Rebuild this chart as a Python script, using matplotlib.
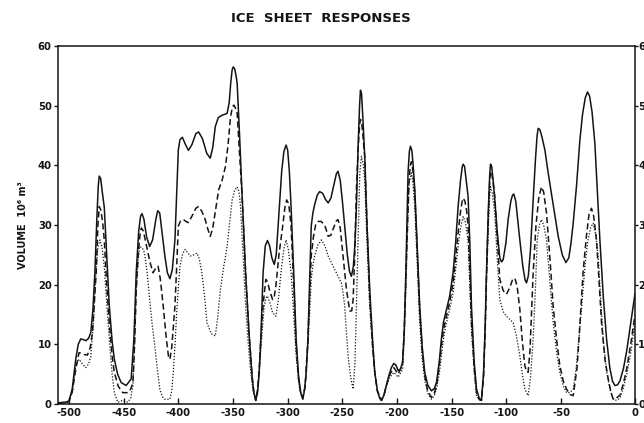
import matplotlib
matplotlib.use("Agg")
import matplotlib.pyplot as plt
from matplotlib.axes import Axes


###================ Ice volume series (10^6 m^3) =================###

solid_time = [
    -510, -503, -500, -497, -493.8, -491.5, -489.2, -486.8, -484.6, -482,
    -480, -478, -476.3, -474.5, -473.2, -472.3, -471, -469.5, -467.7, -465.5,
    -463.1, -460.5, -458.5, -455.5, -452.3, -447.7, -443.1, -440.6, -438.5, -436.2,
    -434.5, -433.2, -431.5, -429, -426.2, -423.5, -420.5, -418.8, -417, -415,
    -412.3, -410, -407.7, -405.5, -403.1, -401.3, -400, -398.5, -396.3, -393.5,
    -390.8, -387.5, -384, -381.5, -378, -374, -370.8, -368.5, -366.2, -363.5,
    -360, -355.4, -353.5, -352, -350.8, -349.8, -348.5, -347, -346.2, -344,
    -341.5, -338.5, -335.4, -332.5, -331, -329.2, -327.5, -326, -324.6, -322.5,
    -320.5, -318.5, -316.5, -314.5, -312.3, -310.5, -307.7, -305.5, -303.5, -301.5,
    -300, -298.5, -296.9, -294.5, -292.3, -290, -288, -286.2, -284.5, -283,
    -281.5, -278.5, -277, -275.4, -273, -270.8, -268, -265.5, -263, -260.5,
    -257.5, -255.5, -254, -252, -250, -247.9, -245.5, -243.5, -241.8, -240,
    -238.5, -237.2, -235.5, -234.3, -233.5, -232.5, -231.3, -229.6, -227.5, -225,
    -222.5, -220.4, -218, -216, -214.3, -212, -209.8, -207.5, -205.2, -203,
    -201, -199, -197, -195, -193.5, -192, -190, -188.8, -187.8, -186.5,
    -185.3, -183.8, -181.5, -179.3, -177, -174.7, -172, -168.6, -166, -164,
    -161.5, -159.5, -157.5, -155.5, -152, -148.8, -146.5, -144.2, -142, -140.5,
    -139.6, -138.3, -136.8, -135.1, -133.5, -132, -129.5, -127.4, -125, -122.9,
    -121, -119.5, -118.3, -116.5, -115.3, -114.6, -113.5, -112.2, -110.7, -108.5,
    -106.1, -104.5, -103, -100.5, -98.5, -96, -94.5, -93.3, -91.5, -89.5,
    -87.8, -85, -83, -81.7, -80, -78, -75.6, -73.5, -72, -71,
    -69.5, -67.5, -64.9, -62.5, -60.4, -56.5, -52.7, -49, -45.7, -43,
    -41, -39, -36, -32.9, -30.5, -28, -25.9, -24, -21.8, -19.2,
    -17, -14.6, -11.5, -8.5, -5.5, -3, -0.9, 1.5, 3.8, 7,
    10, 14, 17.5,
]
solid_volume = [
    0.2, 0.3, 0.5, 2.5, 7.5, 10, 10.9, 10.8, 10.6, 11,
    12, 16, 22, 31, 36.5, 38.2, 37.8, 35.5, 33, 25,
    16.4, 10.5, 7.5, 5, 3.6, 3.1, 4.2, 10.9, 22, 29,
    31.5, 31.9, 31, 28, 26.4, 27.5, 31, 32.4, 32, 29,
    24.8, 22, 21, 22.5, 27.5, 36, 42.6, 44.3, 44.7, 43.5,
    42.5, 43.5, 45.3, 45.6, 44.5, 42, 41.2, 43, 46.5, 48,
    48.4, 48.7, 50.5, 54, 56, 56.5, 56.2, 54.8, 53.7, 45,
    34.2, 22, 12, 4.5, 2, 0.6, 2, 5.5, 10.9, 22,
    26.5, 27.4, 26.5, 24.5, 23.4, 25, 33, 39, 42.3, 43.4,
    42.5, 39, 33, 22, 10.9, 4.5, 1.8, 0.8, 2.5, 5.5,
    10.9, 29.8, 32, 33.4, 35, 35.6, 35.3, 34.3, 33.7, 34.5,
    37, 38.6, 39, 37.5, 34, 29.8, 25, 22.2, 21.4, 23,
    27, 33, 44, 50, 52.6, 52, 48, 41.5, 30, 19.2,
    11, 5.3, 2.2, 1, 0.6, 1.5, 3.1, 4.8, 6.1, 6.8,
    6.5, 5.6, 5.8, 7, 12, 22, 38.7, 42.3, 43.2, 42.5,
    40, 35.9, 26, 16.4, 9.5, 5.3, 3.2, 2.2, 2.6, 3.6,
    7, 10.9, 13.8, 15.3, 18, 22, 27, 33.1, 37.5, 39.7,
    40.2, 39.8, 37.5, 34.8, 27, 16.4, 7, 2.5, 1, 0.6,
    5, 13, 22, 33, 38.5, 40.2, 39.8, 37.5, 34.2, 29,
    24.5, 23.8, 24.2, 27, 30.9, 34, 35, 35.2, 34, 30.5,
    27.5, 23, 20.8, 20.3, 21.5, 26, 34.2, 41, 45, 46.2,
    46, 44.7, 42.6, 39.5, 37, 32.5, 28.1, 25, 23.7, 24.5,
    27, 30.3, 36.5, 44.2, 48.5, 51.3, 52.3, 51.6, 49, 43.7,
    36, 27.5, 18, 10.9, 6, 3.8, 3.1, 3.2, 3.9, 6,
    9, 14, 18.5,
]

dashed_time = [
    -510, -500, -497, -493.8, -490.8, -488.5, -486.2, -483.1, -480.5, -478.5,
    -475.1, -473.5, -472.3, -470.8, -469.2, -467.7, -465.5, -463.1, -460.5, -458.5,
    -455, -450.8, -446.2, -443.5, -441.5, -440, -438.5, -436.5, -434.8, -433.8,
    -432, -429.5, -427.7, -425.5, -423.1, -420.5, -418.5, -416.5, -413.8, -411,
    -409, -407.7, -406, -403.1, -401.5, -400, -398, -395.4, -393, -390.8,
    -387.5, -384, -381.5, -378.5, -375.4, -373, -370.8, -368.5, -366, -363.1,
    -360, -356.9, -354.5, -352.3, -350.5, -349.2, -347.8, -346.2, -344, -341.5,
    -338.5, -335.4, -332.5, -331, -329.2, -327.5, -326, -324.6, -322.3, -320,
    -318.5, -316.5, -313.8, -312.3, -310.8, -308, -304.6, -302.5, -300.9, -299,
    -296.9, -294.5, -292.3, -290, -288, -286.2, -284, -281.5, -280, -278.5,
    -276.5, -274.5, -272.3, -269.5, -266.2, -263, -260.5, -257.5, -255.5, -254,
    -252, -249.4, -246.3, -243.3, -241.5, -240.2, -238.7, -237.2, -235.5, -234.3,
    -233.5, -232.3, -231, -229.6, -227.5, -225, -222.5, -220.4, -218, -214.3,
    -212, -209.8, -206.5, -203, -199, -195, -193.5, -192, -190.3, -189,
    -187.8, -186.9, -185.5, -183.8, -181.5, -179.3, -177, -174.7, -172, -168.6,
    -166, -164, -161.5, -159.5, -157.5, -155.5, -152, -148.8, -146.5, -144.2,
    -142, -140.5, -139.6, -138, -136.5, -135.1, -133.5, -132, -129.5, -127.4,
    -125, -122.9, -121, -119.5, -118.3, -116.5, -115.3, -114.6, -113.3, -112,
    -110.7, -108.5, -106.1, -103, -100, -97, -94.5, -92.4, -90.3, -87.8,
    -85.5, -83.2, -81.7, -80.2, -78.5, -75.6, -73, -70.5, -68, -66,
    -63.4, -60.5, -57.3, -54, -51.2, -48, -45.1, -42, -39, -35.5,
    -33, -30, -27, -24.5, -22.3, -20.3, -17.7, -15.5, -13.1, -10,
    -7, -4.5, -2.4, 0.5, 3.8, 7, 10, 14, 17.5,
]
dashed_volume = [
    0.1, 0.4, 2, 5.8, 8.6, 8.5, 8.3, 8.2, 9.5, 12,
    22, 30, 33.1, 32.5, 30.5, 27.5, 20, 13.6, 8, 5.3,
    3, 1.9, 1.9, 2.5, 3.6, 10, 19.2, 25.5, 28.8, 29.5,
    29, 26.8, 25.3, 23.5, 22, 22.8, 23.1, 21, 16.4, 11,
    8, 7.5, 9.5, 16.4, 23, 29.8, 30.7, 30.9, 30.6, 30.4,
    31.5, 32.8, 33.1, 32.3, 30.9, 29.3, 28.1, 29.5, 32.5, 35.9,
    37.5, 39.8, 43.5, 48.1, 49.8, 50.1, 49.6, 48.7, 42, 34.2,
    22, 12, 4.5, 2, 0.6, 2.5, 6, 10.9, 17, 20.9,
    20.5, 19, 17.5, 18, 19.8, 25, 29.8, 33, 34.2, 33.5,
    29.8, 20, 9.7, 4, 1.6, 1.1, 3, 10.9, 18, 24.8,
    28, 30, 30.6, 30.6, 30, 28.1, 28.3, 29.8, 30.7, 30.9,
    29.5, 24.8, 19.2, 15.6, 15.6, 17.5, 25, 35.9, 43, 46.8,
    47.7, 47, 44.5, 41.5, 30, 17.5, 10, 5.3, 2.2, 0.6,
    1.5, 3.1, 5, 6.1, 5, 6.7, 12, 20.9, 31, 37.6,
    40, 40.6, 39, 35.3, 25, 15.3, 9, 4.7, 2.2, 1.1,
    1.8, 3.1, 6.3, 9.7, 12.5, 14.2, 17, 20.3, 24.5, 28.7,
    32.3, 34, 34.5, 34, 32.5, 29.8, 22, 13.6, 6, 1.9,
    0.8, 0.6, 4.5, 12, 20.9, 32, 37.5, 39, 38.5, 36.8,
    34.8, 28, 20.9, 19, 18.4, 19.5, 20.8, 21.1, 19.8, 15.9,
    10.5, 6.4, 5.5, 5.3, 9, 22, 30, 34.5, 36.4, 35.5,
    32, 25, 16.4, 10.5, 6.4, 3.8, 2.5, 1.6, 1.4, 6,
    13, 22, 28, 31.8, 32.8, 31.5, 27.5, 21, 13.6, 7.5,
    4.2, 2, 0.8, 1, 1.5, 3.5, 6, 10.5, 15,
]

dotted_time = [
    -510, -500, -497, -493.8, -490.8, -487.7, -484.6, -482, -480, -477.5,
    -475.4, -473.5, -471.7, -469.8, -467.7, -465.5, -463.1, -460.5, -458.5, -455.4,
    -450.8, -446.2, -443.5, -441.5, -440, -438.5, -436.8, -435.4, -433, -430.8,
    -428.5, -426.2, -424, -421.5, -419, -416.9, -414.5, -412.3, -407.7, -406,
    -404.6, -403, -401.5, -400, -398.5, -396, -393.8, -391.5, -389.2, -386,
    -383.1, -380.8, -378.5, -376, -373.8, -370, -366.2, -364, -361.5, -358.5,
    -355.4, -353, -350.8, -348.5, -346.2, -344.5, -343.1, -340.8, -338.5, -336,
    -333.8, -331.5, -329.2, -327, -324.6, -323, -321.5, -319.8, -318.5, -316,
    -313.8, -310.8, -308.5, -306.2, -303.5, -301.5, -299.5, -296.9, -294.5, -292.3,
    -289.5, -286.2, -284, -281.5, -280, -278.5, -276.8, -275.4, -272.5, -269.2,
    -266, -263, -259, -255.5, -251, -249.5, -247.9, -246.5, -244.8, -242.5,
    -240.2, -238.5, -237.2, -235.5, -234.1, -232.6, -231, -229.6, -227.5, -225,
    -222.5, -220.4, -218, -214.3, -212, -209.8, -206.5, -203, -199, -195,
    -193.5, -192, -190.3, -189, -186.9, -185.5, -183.8, -181.5, -179.3, -177,
    -174.7, -172, -168.6, -166, -164, -161.5, -159.5, -157.5, -155.5, -152,
    -148.8, -146.5, -144.2, -142, -139.6, -137.5, -135.1, -133.5, -132, -129.5,
    -127.4, -125, -122.9, -121, -119.5, -118.3, -116.5, -115.3, -114.6, -113,
    -110.7, -108.5, -106.1, -103, -100, -97, -93.9, -91, -87.8, -85.5,
    -83.2, -80.2, -78, -75.6, -73.5, -71.9, -70, -68, -66, -63.4,
    -60.5, -57.3, -54, -51.2, -48, -45.1, -42, -39, -36, -33,
    -30, -27.5, -25.4, -23, -20.7, -18.5, -16.2, -14, -11.6, -8.5,
    -5.5, -3, -0.9, 1.5, 3.8, 7, 10, 14, 17.5,
]
dotted_volume = [
    0, 0.3, 2, 6.4, 7.5, 6.7, 6.1, 6.7, 8, 14,
    22, 26.3, 27.5, 26.3, 23.1, 17, 10.9, 5, 1.9, 0.3,
    0.6, 0.3, 1, 3.1, 10, 18.6, 24, 26.4, 26.2, 25.3,
    22, 17.5, 13.5, 9.7, 5.5, 2.5, 1.2, 0.8, 0.8, 2.2,
    5.3, 10, 15.3, 19.5, 23.1, 25.2, 25.9, 25.4, 24.8, 25,
    25.3, 24.3, 22, 18, 13.6, 11.8, 11.4, 14.5, 19.2, 23,
    26.4, 30.5, 34.2, 35.8, 36.4, 35.5, 33.1, 25, 16.4, 10,
    5.3, 2, 0.6, 3, 9, 13, 16.4, 17.8, 18.1, 16.8,
    15.3, 14.7, 17.5, 22, 26, 27.5, 26, 22, 15, 8.1,
    3, 0.8, 3.5, 9.7, 15, 20.9, 23.5, 24.8, 26.6, 27.5,
    26.5, 24.8, 23.3, 22, 20.3, 18.8, 16.4, 12.5, 8.1, 4.5,
    2.5, 7, 16.4, 29, 38.7, 41.5, 40.2, 37.6, 27, 16.4,
    9.5, 5.3, 2, 0.6, 1.5, 3.1, 4.5, 5.3, 4.5, 5.8,
    11, 19.2, 30, 37, 38.7, 37, 33.1, 23, 13.6, 7.5,
    4, 1.8, 0.8, 1.4, 2.5, 5, 8.1, 11, 13.1, 15.8,
    18.6, 22.5, 26.4, 29.5, 31.4, 30.4, 27.5, 20, 12.5, 5.5,
    1.4, 0.7, 0.6, 4.5, 12, 20.9, 30, 35, 36.4, 35.3,
    32, 24.5, 17.5, 15.5, 14.7, 14.2, 13.6, 11.5, 8.1, 5,
    2.5, 1.4, 4.5, 10.9, 19.5, 27.5, 30, 30.9, 30, 27.5,
    21, 13.6, 8.5, 5.3, 3, 1.9, 1.9, 2.5, 6.5, 12.5,
    19.2, 24.5, 27.5, 29.6, 30.3, 28.5, 24.8, 18, 10.9, 5.5,
    2.5, 1.1, 0.6, 0.7, 1, 2.8, 5, 9, 14,
]

time_ticks = [-500, -450, -400, -350, -300, -250, -200, -150, -100, -50]
volume_ticks = [0, 10, 20, 30, 40, 50, 60]
time_range = (-510, 17.5)
volume_range = (0, 60)

INK = "#141414"


###================ Plot helper functions =================###

def style_axes(ax: Axes) -> None:
    ax.set_xlim(*time_range)
    ax.set_ylim(*volume_range)
    for spine in ax.spines.values():
        spine.set_linewidth(1.1)
        spine.set_color(INK)

    # axis is labelled with "0" at the right-hand frame edge
    ax.set_xticks(time_ticks + [time_range[1]])
    ax.set_xticklabels([str(t) for t in time_ticks] + ["0"])
    ax.tick_params(axis="x", direction="in", length=4, width=1, pad=3,
                   labelsize=7.2, colors=INK)

    ax.set_yticks(volume_ticks)
    ax.tick_params(axis="y", direction="out", length=3, width=1, pad=1.5,
                   labelsize=7.2, colors=INK)
    for label in ax.get_xticklabels() + ax.get_yticklabels():
        label.set_fontweight("bold")

    ax.set_ylabel("VOLUME  10\u2076 m\u00b3", fontsize=7, fontweight="bold",
                  labelpad=7, color=INK)


def add_right_scale(ax: Axes) -> Axes:
    """Repeat the volume scale on the right-hand frame edge"""
    right = ax.twinx()
    right.set_ylim(*volume_range)
    right.set_yticks(volume_ticks)
    for spine in right.spines.values():
        spine.set_visible(False)
    right.tick_params(axis="y", direction="out", length=2, width=1, pad=0.3,
                      labelsize=7.2, colors=INK)
    for label in right.get_yticklabels():
        label.set_fontweight("bold")
    return right


def plot_responses(ax: Axes) -> None:
    ax.plot(solid_time, solid_volume, color=INK, lw=1.1, ls="-")
    ax.plot(dashed_time, dashed_volume, color=INK, lw=1.1, ls=(0, (4, 2.2)))
    ax.plot(dotted_time, dotted_volume, color=INK, lw=0.9, ls=(0, (1, 1.4)))


###================ Figure =================###

plt.rcParams["font.family"] = ["DejaVu Sans"]
plt.rcParams["axes.unicode_minus"] = False

fig = plt.figure(figsize=(6.44, 4.23), dpi=100)
ax = fig.add_axes([58 / 644, 19 / 423, (635 - 58) / 644, (404 - 46) / 423])
plot_responses(ax)
style_axes(ax)
add_right_scale(ax)

fig.text(321 / 644, 1 - 18 / 423, "ICE  SHEET  RESPONSES", ha="center",
         va="center", fontsize=9.5, fontweight="bold", color=INK)

fig.savefig("out.png", dpi=100)
